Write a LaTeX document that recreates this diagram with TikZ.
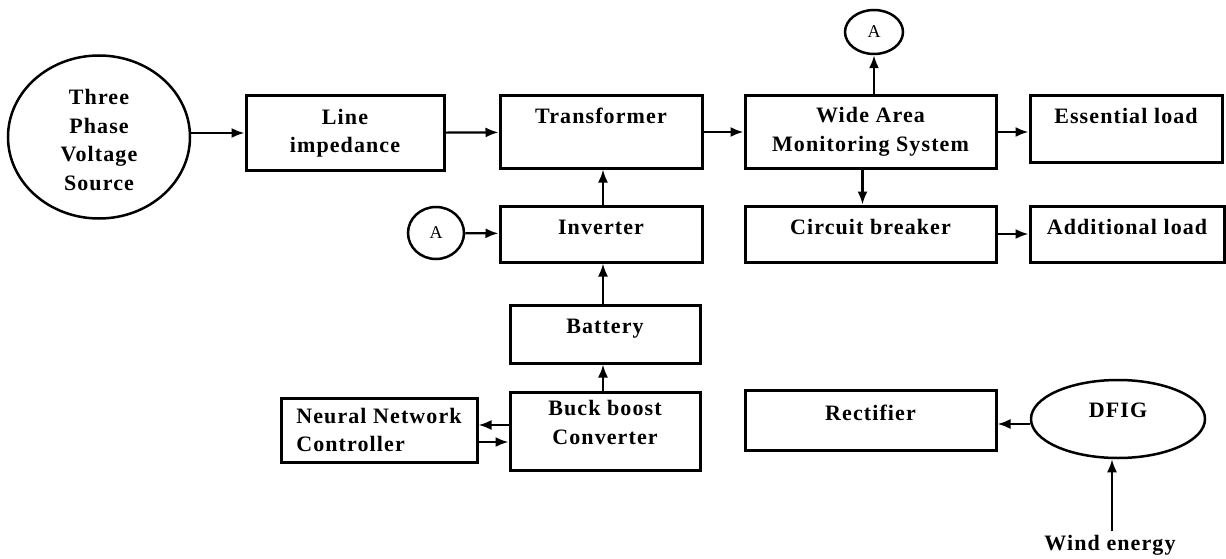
\documentclass[tikz,border=0pt]{standalone}
\usepackage{fontspec}
\setmainfont{Liberation Serif}[LetterSpace=5]
\usetikzlibrary{arrows.meta,shapes.geometric}

\begin{document}
\begin{tikzpicture}[x=1pt,y=-1pt,>={Latex[length=13pt,width=10pt]},font=\bfseries\fontsize{22}{28.5}\selectfont]
\tikzstyle{block} = [rectangle, draw, line width=3pt, align=center, inner sep=6pt]
\tikzstyle{topblock} = [block, text height=22pt]
\tikzstyle{round} = [ellipse, draw, line width=2.5pt, align=center, inner sep=2pt]
\tikzstyle{link} = [round, font=\fontsize{18}{22}\selectfont]
\tikzstyle{line} = [draw, line width=2.2pt, ->];

\useasboundingbox (0,0) rectangle (1226,559);

% top row
\node [round, text height=106pt, text depth=0pt, minimum width=182, minimum height=163] (source) at (99,137) {Three\\Phase\\Voltage\\Source};
\node [block, minimum width=198, minimum height=74] (impedance) at (345,133) {Line\\impedance};
\node [topblock, minimum width=202, minimum height=72, text depth=38pt] (transformer) at (601,132) {Transformer};
\node [block, minimum width=251, minimum height=72] (wams) at (870.5,132) {Wide Area\\Monitoring System};
\node [topblock, minimum width=192, minimum height=66, text depth=32pt] (essential) at (1126,129) {Essential load};
\node [link, minimum width=58, minimum height=44] (atop) at (874,32) {A};
% second row
\node [link, minimum width=56, minimum height=52] (aleft) at (436,233) {A};
\node [topblock, minimum width=202, minimum height=56, text depth=22pt] (inverter) at (601,234) {Inverter};
\node [topblock, minimum width=251, minimum height=56, text depth=22pt] (breaker) at (870.5,234) {Circuit breaker};
\node [topblock, minimum width=194, minimum height=56, text depth=22pt] (additional) at (1127,234) {Additional load};
% storage and generation
\node [topblock, minimum width=190, minimum height=58, text depth=24pt] (battery) at (605,334) {Battery};
\node [block, text height=46pt, text depth=20pt, minimum width=190, minimum height=78] (buckboost) at (605,431) {Buck boost\\Converter};
\node [block, align=left, minimum width=196, minimum height=64] (controller) at (379,430) {Neural Network\\Controller};
\node [topblock, text height=24pt, minimum width=251, minimum height=60, text depth=24pt] (rectifier) at (870.5,420) {Rectifier};
\node [round, text height=15pt, text depth=19pt, minimum width=174, minimum height=78] (dfig) at (1118,419) {DFIG};
\node (wind) at (1110,545) {Wind energy};

\tikzstyle{every path}=[line]
\path (source.east |- impedance.west) -- (impedance.west);
\path (impedance) -- (transformer);
\path (transformer) -- (wams);
\path (wams.east) -- (wams.east -| essential.west);
\path (atop |- wams.north) -- (atop);
\path ([xshift=-8pt]wams.south) -- ([xshift=-8pt]breaker.north);
\path (breaker.east) -- (additional.west);
\path (aleft) -- (inverter);
\path ([xshift=2pt]inverter.north) -- ([xshift=2pt]transformer.south);
\path ([xshift=-2pt]battery.north) -- ([xshift=2pt]inverter.south);
\path ([xshift=-2pt]buckboost.north) -- ([xshift=-2pt]battery.south);
\path ([yshift=6pt]buckboost.west) -- ([yshift=6pt]buckboost.west -| controller.east);
\path ([yshift=-12pt]controller.east) -- ([yshift=-12pt]controller.east -| buckboost.west);
\path ([yshift=-4pt]rectifier.east -| dfig.west) -- ([yshift=-4pt]rectifier.east);
\path ([xshift=-6pt]dfig.south |- wind.north) -- ([xshift=-6pt]dfig.south);

\end{tikzpicture}
\end{document}
